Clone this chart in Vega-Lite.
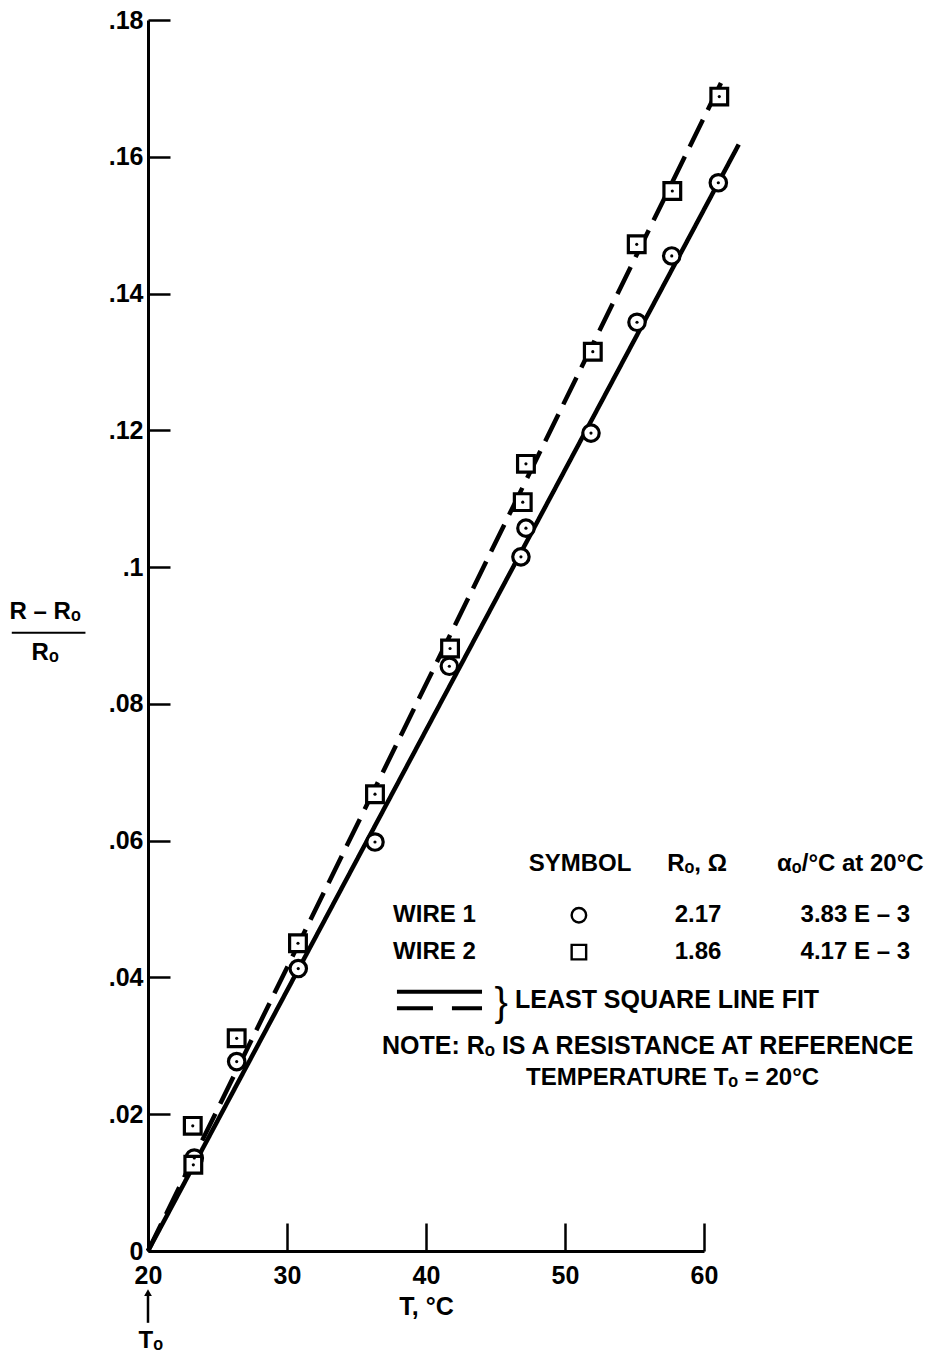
{
  "$schema": "https://vega.github.io/schema/vega-lite/v6.json",
  "width": 556,
  "height": 1231,
  "autosize": {"type": "none"},
  "padding": {"left": 148, "top": 20, "right": 227, "bottom": 109},
  "background": "white",
  "config": {
    "view": {"stroke": null},
    "font": "Liberation Sans, Arial, DejaVu Sans, sans-serif",
    "text": {"font": "Liberation Sans, DejaVu Sans, sans-serif", "fontWeight": "bold", "fontSize": 24, "color": "black", "baseline": "middle"},
    "axis": {
      "grid": false,
      "domainColor": "black",
      "domainWidth": 3,
      "tickColor": "black",
      "tickWidth": 2.5,
      "labelFont": "Liberation Sans, DejaVu Sans, sans-serif",
      "labelFontWeight": "bold",
      "labelFontSize": 25,
      "labelColor": "black",
      "labelFlush": false,
      "titleFont": "Liberation Sans, DejaVu Sans, sans-serif",
      "titleFontWeight": "bold",
      "titleFontSize": 25,
      "titleColor": "black"
    }
  },
  "datasets": {
    "points": [
      {"wire": "WIRE 1", "T": 23.33, "ratio": 0.0136},
      {"wire": "WIRE 1", "T": 26.38, "ratio": 0.0277},
      {"wire": "WIRE 1", "T": 30.81, "ratio": 0.0413},
      {"wire": "WIRE 1", "T": 36.33, "ratio": 0.0598},
      {"wire": "WIRE 1", "T": 41.68, "ratio": 0.0855},
      {"wire": "WIRE 1", "T": 46.83, "ratio": 0.1015},
      {"wire": "WIRE 1", "T": 47.19, "ratio": 0.1057},
      {"wire": "WIRE 1", "T": 51.87, "ratio": 0.1196},
      {"wire": "WIRE 1", "T": 55.18, "ratio": 0.1358},
      {"wire": "WIRE 1", "T": 57.68, "ratio": 0.1455},
      {"wire": "WIRE 1", "T": 61.03, "ratio": 0.1562},
      {"wire": "WIRE 2", "T": 23.22, "ratio": 0.0183},
      {"wire": "WIRE 2", "T": 23.26, "ratio": 0.0126},
      {"wire": "WIRE 2", "T": 26.38, "ratio": 0.0311},
      {"wire": "WIRE 2", "T": 30.79, "ratio": 0.045},
      {"wire": "WIRE 2", "T": 36.33, "ratio": 0.0668},
      {"wire": "WIRE 2", "T": 41.73, "ratio": 0.0881},
      {"wire": "WIRE 2", "T": 46.96, "ratio": 0.1095},
      {"wire": "WIRE 2", "T": 47.19, "ratio": 0.1151},
      {"wire": "WIRE 2", "T": 52.0, "ratio": 0.1315},
      {"wire": "WIRE 2", "T": 55.16, "ratio": 0.1472},
      {"wire": "WIRE 2", "T": 57.72, "ratio": 0.155},
      {"wire": "WIRE 2", "T": 61.1, "ratio": 0.1688}
    ],
    "fits": [
      {"wire": "WIRE 1", "T": 20, "ratio": 0},
      {"wire": "WIRE 1", "T": 62.5, "ratio": 0.1618},
      {"wire": "WIRE 2", "T": 20, "ratio": 0},
      {"wire": "WIRE 2", "T": 61.27, "ratio": 0.171}
    ],
    "one": [{}]
  },
  "layer": [
    {
      "data": {"name": "fits"},
      "mark": {"type": "line", "color": "black", "strokeWidth": 4.5, "clip": false},
      "encoding": {
        "x": {"field": "T", "type": "quantitative", "scale": {"domain": [20, 60], "nice": false, "zero": false},
          "axis": {"values": [20, 30, 40, 50, 60], "tickSize": -28, "labelPadding": 40, "title": "T, °C", "titlePadding": 6}},
        "y": {"field": "ratio", "type": "quantitative", "scale": {"domain": [0, 0.18], "nice": false, "zero": false},
          "axis": {"values": [0, 0.02, 0.04, 0.06, 0.08, 0.1, 0.12, 0.14, 0.16, 0.18], "tickSize": -22, "labelPadding": 27,
            "labelExpr": "datum.value == 0 ? '0' : replace(format(datum.value, '.2~f'), '0.', '.')", "title": null}},
        "detail": {"field": "wire"},
        "strokeDash": {"field": "wire", "type": "nominal", "scale": {"domain": ["WIRE 1", "WIRE 2"], "range": [[1, 0], [30, 11]]}, "legend": null}
      }
    },
    {
      "data": {"name": "points"},
      "mark": {"type": "point", "filled": false, "fill": "white", "fillOpacity": 1, "stroke": "black", "strokeWidth": 3.2, "opacity": 1, "clip": false},
      "encoding": {
        "x": {"field": "T", "type": "quantitative"},
        "y": {"field": "ratio", "type": "quantitative"},
        "shape": {"field": "wire", "type": "nominal", "scale": {"domain": ["WIRE 1", "WIRE 2"], "range": ["circle", "square"]}, "legend": null},
        "size": {"field": "wire", "type": "nominal", "scale": {"domain": ["WIRE 1", "WIRE 2"], "range": [270, 280]}, "legend": null}
      }
    },
    {
      "data": {"name": "points"},
      "mark": {"type": "circle", "color": "black", "size": 10, "opacity": 1, "clip": false},
      "encoding": {
        "x": {"field": "T", "type": "quantitative"},
        "y": {"field": "ratio", "type": "quantitative"}
      }
    },
    {"data": {"name": "one"}, "mark": {"type": "text", "align": "center", "clip": false}, "encoding": {"x": {"datum": 51.08, "type": "quantitative"}, "y": {"datum": 0.0566, "type": "quantitative"}, "text": {"value": "SYMBOL"}}},
    {"data": {"name": "one"}, "mark": {"type": "text", "align": "center", "clip": false}, "encoding": {"x": {"datum": 59.5, "type": "quantitative"}, "y": {"datum": 0.0566, "type": "quantitative"}, "text": {"value": "Rₒ, Ω"}}},
    {"data": {"name": "one"}, "mark": {"type": "text", "align": "right", "clip": false}, "encoding": {"x": {"datum": 75.8, "type": "quantitative"}, "y": {"datum": 0.0566, "type": "quantitative"}, "text": {"value": "αₒ/°C at 20°C"}}},
    {"data": {"name": "one"}, "mark": {"type": "text", "align": "left", "clip": false}, "encoding": {"x": {"datum": 37.63, "type": "quantitative"}, "y": {"datum": 0.0491, "type": "quantitative"}, "text": {"value": "WIRE 1"}}},
    {"data": {"name": "one"}, "mark": {"type": "text", "align": "left", "clip": false}, "encoding": {"x": {"datum": 37.63, "type": "quantitative"}, "y": {"datum": 0.0437, "type": "quantitative"}, "text": {"value": "WIRE 2"}}},
    {"data": {"name": "one"}, "mark": {"type": "point", "shape": "circle", "filled": false, "stroke": "black", "strokeWidth": 2.4, "size": 210, "opacity": 1, "clip": false}, "encoding": {"x": {"datum": 51.0, "type": "quantitative"}, "y": {"datum": 0.0491, "type": "quantitative"}}},
    {"data": {"name": "one"}, "mark": {"type": "point", "shape": "square", "filled": false, "stroke": "black", "strokeWidth": 2.4, "size": 210, "opacity": 1, "clip": false}, "encoding": {"x": {"datum": 51.0, "type": "quantitative"}, "y": {"datum": 0.0437, "type": "quantitative"}}},
    {"data": {"name": "one"}, "mark": {"type": "text", "align": "center", "clip": false}, "encoding": {"x": {"datum": 59.57, "type": "quantitative"}, "y": {"datum": 0.0491, "type": "quantitative"}, "text": {"value": "2.17"}}},
    {"data": {"name": "one"}, "mark": {"type": "text", "align": "center", "clip": false}, "encoding": {"x": {"datum": 59.57, "type": "quantitative"}, "y": {"datum": 0.0437, "type": "quantitative"}, "text": {"value": "1.86"}}},
    {"data": {"name": "one"}, "mark": {"type": "text", "align": "right", "clip": false}, "encoding": {"x": {"datum": 74.82, "type": "quantitative"}, "y": {"datum": 0.0491, "type": "quantitative"}, "text": {"value": "3.83 E – 3"}}},
    {"data": {"name": "one"}, "mark": {"type": "text", "align": "right", "clip": false}, "encoding": {"x": {"datum": 74.82, "type": "quantitative"}, "y": {"datum": 0.0437, "type": "quantitative"}, "text": {"value": "4.17 E – 3"}}},
    {"data": {"name": "one"}, "mark": {"type": "rule", "color": "black", "strokeWidth": 4, "clip": false}, "encoding": {"x": {"datum": 37.91, "type": "quantitative"}, "x2": {"datum": 44.03}, "y": {"datum": 0.0379, "type": "quantitative"}}},
    {"data": {"name": "one"}, "mark": {"type": "rule", "color": "black", "strokeWidth": 4, "strokeDash": [36, 19], "clip": false}, "encoding": {"x": {"datum": 37.91, "type": "quantitative"}, "x2": {"datum": 44.03}, "y": {"datum": 0.0355, "type": "quantitative"}}},
    {"data": {"name": "one"}, "mark": {"type": "text", "align": "center", "fontWeight": "normal", "fontSize": 40, "clip": false}, "encoding": {"x": {"datum": 45.4, "type": "quantitative"}, "y": {"datum": 0.0361, "type": "quantitative"}, "text": {"value": "}"}}},
    {"data": {"name": "one"}, "mark": {"type": "text", "align": "left", "fontSize": 25, "clip": false}, "encoding": {"x": {"datum": 46.4, "type": "quantitative"}, "y": {"datum": 0.0367, "type": "quantitative"}, "text": {"value": "LEAST SQUARE LINE FIT"}}},
    {"data": {"name": "one"}, "mark": {"type": "text", "align": "left", "fontSize": 25, "clip": false}, "encoding": {"x": {"datum": 36.83, "type": "quantitative"}, "y": {"datum": 0.0300, "type": "quantitative"}, "text": {"value": "NOTE:  Rₒ IS A RESISTANCE AT REFERENCE"}}},
    {"data": {"name": "one"}, "mark": {"type": "text", "align": "left", "clip": false}, "encoding": {"x": {"datum": 47.2, "type": "quantitative"}, "y": {"datum": 0.0253, "type": "quantitative"}, "text": {"value": "TEMPERATURE Tₒ = 20°C"}}},
    {"data": {"name": "one"}, "mark": {"type": "text", "align": "center", "clip": false}, "encoding": {"x": {"datum": 12.6, "type": "quantitative"}, "y": {"datum": 0.0934, "type": "quantitative"}, "text": {"value": "R – Rₒ"}}},
    {"data": {"name": "one"}, "mark": {"type": "rule", "color": "black", "strokeWidth": 2, "clip": false}, "encoding": {"x": {"datum": 10.2, "type": "quantitative"}, "x2": {"datum": 15.5}, "y": {"datum": 0.0904, "type": "quantitative"}}},
    {"data": {"name": "one"}, "mark": {"type": "text", "align": "center", "clip": false}, "encoding": {"x": {"datum": 12.6, "type": "quantitative"}, "y": {"datum": 0.0874, "type": "quantitative"}, "text": {"value": "Rₒ"}}},
    {"data": {"name": "one"}, "mark": {"type": "rule", "color": "black", "strokeWidth": 2.5, "clip": false}, "encoding": {"x": {"datum": 20, "type": "quantitative"}, "y": {"datum": -0.0062, "type": "quantitative"}, "y2": {"datum": -0.0105}}},
    {"data": {"name": "one"}, "mark": {"type": "point", "shape": "triangle-up", "filled": true, "color": "black", "size": 60, "opacity": 1, "clip": false}, "encoding": {"x": {"datum": 20, "type": "quantitative"}, "y": {"datum": -0.0061, "type": "quantitative"}}},
    {"data": {"name": "one"}, "mark": {"type": "text", "align": "center", "clip": false}, "encoding": {"x": {"datum": 20.2, "type": "quantitative"}, "y": {"datum": -0.0132, "type": "quantitative"}, "text": {"value": "Tₒ"}}}
  ]
}
